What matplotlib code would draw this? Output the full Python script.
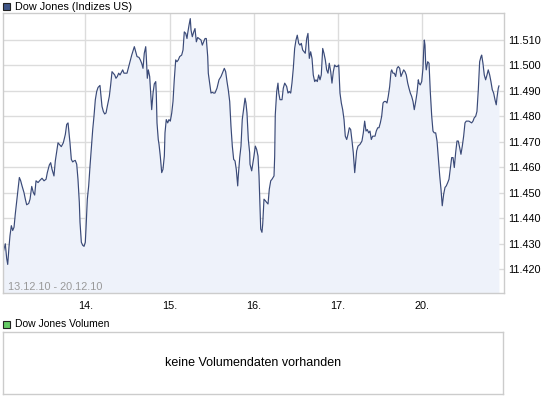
import matplotlib.pyplot as plt
from matplotlib.patches import Rectangle
from matplotlib.ticker import FuncFormatter

# time axis: trading days since 13.12.10 (0 = start of 13th, 1 = 14th, ...)
zeit = [
    0.027, 0.050, 0.067, 0.079, 0.094, 0.106, 0.122, 0.138, 0.154, 0.169,
    0.186, 0.201, 0.217, 0.233, 0.249, 0.272, 0.288, 0.304, 0.328, 0.344,
    0.364, 0.383, 0.399, 0.415, 0.439, 0.462, 0.486, 0.510, 0.534, 0.549,
    0.573, 0.589, 0.605, 0.628, 0.644, 0.661, 0.676, 0.691, 0.715, 0.739,
    0.763, 0.779, 0.795, 0.807, 0.818, 0.834, 0.850, 0.866, 0.881, 0.898,
    0.913, 0.929, 0.937, 0.953, 0.969, 0.985, 1.000,
    1.008, 1.024, 1.040, 1.056, 1.071, 1.088, 1.103, 1.119, 1.135, 1.151,
    1.174, 1.183, 1.198, 1.214, 1.230, 1.246, 1.261, 1.285, 1.301, 1.317,
    1.332, 1.349, 1.364, 1.380, 1.396, 1.412, 1.427, 1.444, 1.459, 1.471,
    1.495, 1.510, 1.531, 1.551, 1.570, 1.582, 1.598, 1.614, 1.637, 1.653,
    1.669, 1.685, 1.700, 1.717, 1.724, 1.736, 1.748, 1.764, 1.780, 1.788,
    1.804, 1.819, 1.836, 1.843, 1.851, 1.866, 1.875, 1.890, 1.907, 1.922,
    1.938, 1.946, 1.961, 1.978, 1.993,
    2.009, 2.026, 2.041, 2.056, 2.073, 2.088, 2.104, 2.120, 2.144, 2.160,
    2.175, 2.192, 2.207, 2.215, 2.231, 2.246, 2.255, 2.270, 2.287, 2.302,
    2.318, 2.334, 2.350, 2.373, 2.389, 2.405, 2.421, 2.436, 2.453, 2.460,
    2.476, 2.492, 2.507, 2.524, 2.539, 2.563, 2.587, 2.611, 2.634, 2.650,
    2.666, 2.682, 2.697, 2.714, 2.729, 2.745, 2.761, 2.777, 2.792, 2.809,
    2.816, 2.833, 2.848, 2.863, 2.880, 2.896, 2.907, 2.919, 2.935, 2.951,
    2.955, 2.975, 2.987,
    3.002, 3.018, 3.034, 3.050, 3.062, 3.074, 3.082, 3.097, 3.106, 3.121,
    3.137, 3.153, 3.169, 3.184, 3.201, 3.216, 3.240, 3.248, 3.255, 3.272,
    3.287, 3.296, 3.311, 3.335, 3.350, 3.367, 3.390, 3.406, 3.421, 3.438,
    3.453, 3.469, 3.485, 3.501, 3.516, 3.533, 3.548, 3.564, 3.580, 3.596,
    3.611, 3.628, 3.643, 3.659, 3.675, 3.691, 3.706, 3.723, 3.738, 3.754,
    3.770, 3.786, 3.801, 3.818, 3.833, 3.849, 3.865, 3.881, 3.896, 3.913,
    3.928, 3.944, 3.960, 3.976, 3.991,
    4.008, 4.023, 4.039, 4.055, 4.071, 4.086, 4.103, 4.118, 4.134, 4.150,
    4.166, 4.181, 4.198, 4.205, 4.221, 4.237, 4.261, 4.284, 4.300, 4.316,
    4.332, 4.347, 4.364, 4.379, 4.395, 4.411, 4.439, 4.454, 4.471, 4.486,
    4.502, 4.518, 4.534, 4.549, 4.566, 4.581, 4.596, 4.613, 4.629, 4.637,
    4.652, 4.668, 4.684, 4.700, 4.715, 4.732, 4.747, 4.763, 4.779, 4.795,
    4.810, 4.827, 4.842, 4.858, 4.874, 4.890, 4.905, 4.922, 4.937, 4.953,
    4.961, 4.976, 4.993,
    5.008, 5.017, 5.024, 5.032, 5.040, 5.047, 5.064, 5.080, 5.095, 5.112,
    5.127, 5.142, 5.159, 5.175, 5.190, 5.207, 5.222, 5.237, 5.254, 5.270,
    5.285, 5.302, 5.317, 5.332, 5.349, 5.365, 5.380, 5.396, 5.412, 5.427,
    5.444, 5.459, 5.475, 5.491, 5.507, 5.522, 5.539, 5.554, 5.586, 5.602,
    5.617, 5.634, 5.649, 5.665, 5.681, 5.697, 5.705, 5.720, 5.736, 5.752,
    5.768, 5.783, 5.800, 5.815, 5.831, 5.847, 5.863, 5.878, 5.886, 5.902,
    5.910,
]

kurs = [
    11426.8, 11430.0, 11424.2, 11421.9, 11428.7, 11433.2, 11437.1, 11435.2, 11436.5, 11441.7,
    11446.9, 11451.4, 11456.0, 11454.7, 11452.7, 11450.1, 11447.5, 11445.3, 11445.8, 11447.5,
    11452.5, 11450.1, 11449.1, 11454.7, 11454.0, 11454.9, 11455.7, 11454.7, 11455.3, 11457.9,
    11460.9, 11461.8, 11459.2, 11456.6, 11462.5, 11466.4, 11469.6, 11469.0, 11468.1, 11469.6,
    11472.9, 11476.8, 11477.4, 11473.5, 11469.6, 11463.1, 11462.1, 11462.5, 11462.7, 11461.2,
    11455.3, 11446.2, 11438.4, 11430.6, 11429.4, 11429.0, 11430.6,
    11435.8, 11447.5, 11452.7, 11460.5, 11467.0, 11474.8, 11480.0, 11486.5, 11489.7, 11491.3,
    11492.1, 11489.1, 11483.9, 11481.9, 11480.9, 11481.3, 11483.9, 11487.8, 11492.3, 11497.5,
    11496.9, 11496.2, 11494.9, 11495.6, 11496.9, 11496.2, 11497.1, 11498.2, 11496.9, 11496.9,
    11496.9, 11498.8, 11501.4, 11504.0, 11506.0, 11507.3, 11505.3, 11503.4, 11503.1, 11502.1,
    11500.8, 11498.8, 11504.7, 11507.3, 11503.4, 11494.9, 11498.2, 11495.6, 11486.5, 11482.6,
    11489.1, 11492.7, 11493.6, 11488.4, 11477.4, 11470.9, 11469.0, 11464.4, 11457.9, 11459.2,
    11464.4, 11473.5, 11478.7, 11477.4, 11478.7,
    11478.1, 11481.3, 11485.8, 11494.3, 11502.1, 11501.4, 11502.1, 11503.4, 11504.0, 11506.0,
    11513.1, 11512.5, 11510.5, 11512.5, 11515.7, 11518.3, 11513.8, 11511.2, 11513.1, 11514.4,
    11509.2, 11510.9, 11510.5, 11509.9, 11507.9, 11509.2, 11510.5, 11510.5, 11503.4, 11496.9,
    11493.0, 11489.1, 11489.4, 11489.1, 11489.1, 11491.0, 11494.3, 11495.6, 11497.5, 11498.8,
    11497.5, 11493.6, 11490.4, 11485.8, 11476.1, 11468.3, 11463.1, 11462.5, 11459.2, 11452.7,
    11456.6, 11463.8, 11468.3, 11478.7, 11483.2, 11487.1, 11485.2, 11481.3, 11470.9, 11465.7,
    11461.2, 11458.6, 11461.2,
    11464.4, 11468.3, 11467.0, 11464.4, 11456.6, 11443.6, 11435.8, 11434.5, 11437.8, 11447.5,
    11446.9, 11446.2, 11445.6, 11451.4, 11454.7, 11455.3, 11456.6, 11464.4, 11480.6, 11489.7,
    11493.0, 11489.1, 11486.5, 11486.5, 11491.0, 11493.0, 11491.7, 11489.1, 11489.7, 11489.1,
    11493.0, 11498.8, 11506.6, 11509.9, 11511.8, 11508.6, 11507.9, 11508.6, 11506.0, 11505.3,
    11504.7, 11510.5, 11512.5, 11502.7, 11505.3, 11502.7, 11496.2, 11493.6, 11494.3, 11493.6,
    11496.2, 11494.3, 11496.2, 11506.6, 11504.7, 11502.1, 11498.2, 11496.9, 11500.8, 11497.5,
    11493.0, 11497.5, 11500.1, 11499.5, 11499.5,
    11500.1, 11489.1, 11485.2, 11482.6, 11478.7, 11472.2, 11470.9, 11472.9, 11475.5, 11474.8,
    11470.3, 11465.7, 11457.9, 11460.5, 11466.4, 11468.3, 11469.0, 11470.3, 11473.5, 11478.1,
    11474.2, 11474.8, 11473.5, 11474.2, 11470.9, 11472.2, 11472.2, 11474.2, 11475.5, 11475.5,
    11477.4, 11480.0, 11485.2, 11485.8, 11485.8, 11485.2, 11487.8, 11491.7, 11497.5, 11498.2,
    11496.9, 11496.9, 11495.6, 11498.8, 11499.5, 11498.8, 11495.6, 11496.9, 11498.2, 11497.5,
    11496.2, 11493.0, 11491.0, 11489.1, 11487.8, 11485.8, 11482.6, 11485.8, 11489.1, 11494.3,
    11493.0, 11492.3, 11493.6,
    11498.8, 11506.0, 11509.9, 11507.9, 11500.8, 11498.2, 11501.4, 11500.8, 11489.7, 11480.0,
    11474.2, 11473.5, 11473.5, 11470.3, 11463.8, 11456.6, 11451.4, 11444.9, 11449.5, 11452.1,
    11452.7, 11454.0, 11455.3, 11459.2, 11463.8, 11463.8, 11459.9, 11465.7, 11470.3, 11470.3,
    11467.7, 11465.1, 11468.3, 11472.2, 11477.4, 11478.1, 11478.1, 11478.1, 11477.4, 11478.1,
    11479.4, 11480.0, 11481.9, 11490.4, 11501.4, 11503.4, 11504.0, 11500.8, 11496.2, 11494.3,
    11496.2, 11498.2, 11496.2, 11493.6, 11490.4, 11489.1, 11486.5, 11484.5, 11487.1, 11491.0,
    11491.9,
]

tag_pos = [1, 2, 3, 4, 5]
tag_labels = ["14.", "15.", "16.", "17.", "20."]
y_ticks = list(range(11420, 11511, 10))
zeitraum = "13.12.10 - 20.12.10"

W, H = 545, 398
plt.rcParams['font.family'] = ['Liberation Sans', 'DejaVu Sans']
fig = plt.figure(figsize=(W / 100, H / 100), dpi=100)

line_col = "#3a4a78"
fill_col = "#eef2fa"
grid_col = "#dcdcdc"
edge_col = "#cccccc"

# main price chart
ax = fig.add_axes([3 / W, (H - 293) / H, 501 / W, 280 / H])
ax.fill_between(zeit, kurs, 11400, color=fill_col, lw=0)
ax.plot(zeit, kurs, color=line_col, lw=0.85)
ax.set_xlim(0.023, 5.970)
ax.set_ylim(11410.7, 11520.5)
ax.set_xticks(tag_pos)
ax.set_xticklabels(tag_labels)
ax.set_yticks(y_ticks)
ax.yaxis.set_major_formatter(FuncFormatter(lambda v, p: f"{int(v):,}".replace(",", ".")))
ax.yaxis.tick_right()
ax.tick_params(length=0, labelsize=7.8, colors="black")
ax.tick_params(axis="y", pad=3)
ax.tick_params(axis="x", pad=6)
ax.grid(True, color=grid_col, lw=1)
ax.set_axisbelow(True)
for s in ax.spines.values():
    s.set_color(edge_col)
    s.set_linewidth(1)
ax.text(0.01, 0.023, zeitraum, transform=ax.transAxes, fontsize=7.8,
        color="#999999", va="center", ha="left")

# header for the price chart
fig.add_artist(Rectangle((3 / W, 1 - 10 / H), 7 / W, 7 / H, transform=fig.transFigure,
                         facecolor="#3f5587", edgecolor="#222222", lw=0.8))
fig.text(15 / W, 1 - 6.5 / H, "Dow Jones (Indizes US)", fontsize=7.8, va="center")

# volume panel (empty)
fig.add_artist(Rectangle((3 / W, 1 - 327.5 / H), 7 / W, 7 / H, transform=fig.transFigure,
                         facecolor="#66cc66", edgecolor="#222222", lw=0.8))
fig.text(15 / W, 1 - 324 / H, "Dow Jones Volumen", fontsize=7.5, va="center")

ax2 = fig.add_axes([3 / W, (H - 394) / H, 500 / W, 62 / H])
ax2.set_xticks([])
ax2.set_yticks([])
for s in ax2.spines.values():
    s.set_color(edge_col)
    s.set_linewidth(1)
ax2.text(0.5, 0.5, "keine Volumendaten vorhanden", transform=ax2.transAxes,
         ha="center", va="center", fontsize=9)

fig.savefig("out.png", dpi=100)
